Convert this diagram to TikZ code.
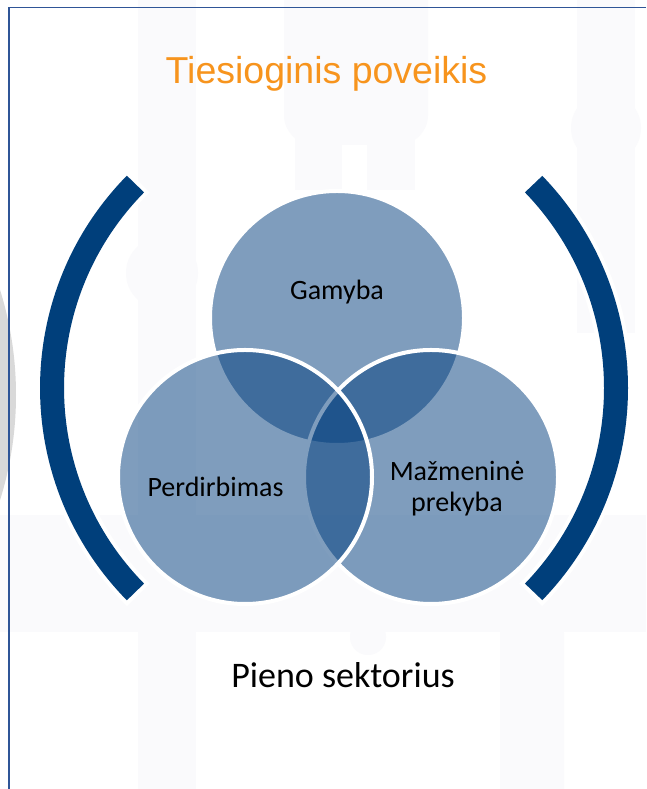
\documentclass[tikz,border=0pt]{standalone}
\usepackage{fontspec}
\setmainfont{Carlito}
\newfontfamily\titlefont{Liberation Sans}
\definecolor{navy}{HTML}{003D7D}
\definecolor{bracketblue}{HTML}{003F7B}
\definecolor{framecol}{HTML}{2F5597}
\definecolor{titleorange}{HTML}{F7941D}
\definecolor{faint}{HTML}{FAFAFC}
\definecolor{sidegray}{HTML}{D9D9D9}
\begin{document}
\begin{tikzpicture}[x=1pt,y=1pt,
  venn/.style={circle, minimum size=254pt, inner sep=0pt, fill=navy, fill opacity=0.5, draw=white, draw opacity=1, line width=4pt},
  lbl/.style={font=\fontsize{28}{32}\selectfont, text=black, inner sep=0pt, anchor=base},
  brk/.style={line width=24pt, draw=bracketblue},
  halo/.style={line width=32pt, draw=white},
  bg/.style={fill=faint}]
\useasboundingbox (0,0) rectangle (646,789);
\begin{scope}
\clip (0,0) rectangle (646,789);
\fill[white] (0,0) rectangle (646,789);
% faint background pattern
\fill[bg] (138,0) rectangle (196,789);
\fill[bg, rounded corners=30pt] (284,829) rectangle (428,644);
\fill[bg] (295,660) rectangle (342,599);
\fill[bg] (367,660) rectangle (415,599);
\fill[bg] (577,789) rectangle (635,456);
\fill[bg] (606,661) circle (35);
\fill[bg] (162,516) circle (36);
\fill[bg] (0,274) rectangle (646,157);
\fill[bg, rounded corners=20pt] (500,-30) rectangle (564,175);
\fill[bg] (368,152) circle (18);
% grey side shape
\fill[sidegray] (-336,394) circle (352);
% frame
\draw[framecol, line width=1.5pt] (646,781.5) -- (9,781.5) -- (9,-2);
\end{scope}

% brackets
\coordinate (lc) at (343,401);
\coordinate (rc) at (322.5,401);
\draw[halo] (lc) ++(134.7:291) arc[start angle=134.7, end angle=225.3, radius=291pt];
\draw[brk] (lc) ++(135.5:291) arc[start angle=135.5, end angle=224.5, radius=291pt];
\draw[halo] (rc) ++(44.8:293.5) arc[start angle=44.8, end angle=-44.8, radius=293.5pt];
\draw[brk] (rc) ++(44:293.5) arc[start angle=44, end angle=-44, radius=293.5pt];

% title
\node[font=\titlefont\fontsize{37.5}{40}\selectfont, text=titleorange, inner sep=0pt, anchor=base] (title) at (326.5,705.5) {Tiesioginis poveikis};

% venn circles
\node[venn] (g) at (337,471) {};
\node[venn] (m) at (431,312) {};
\node[venn] (p) at (245,312) {};

% labels
\node[lbl] (tg) at (337,489) {Gamyba};
\node[lbl] (tp) at (215.5,292) {Perdirbimas};
\node[lbl] (tm1) at (457,308) {Mažmeninė};
\node[lbl] (tm2) at (457,277) {prekyba};

% caption
\node[font=\fontsize{36}{40}\selectfont, text=black, inner sep=0pt, anchor=base] (cap) at (343,101) {Pieno sektorius};
\end{tikzpicture}
\end{document}
